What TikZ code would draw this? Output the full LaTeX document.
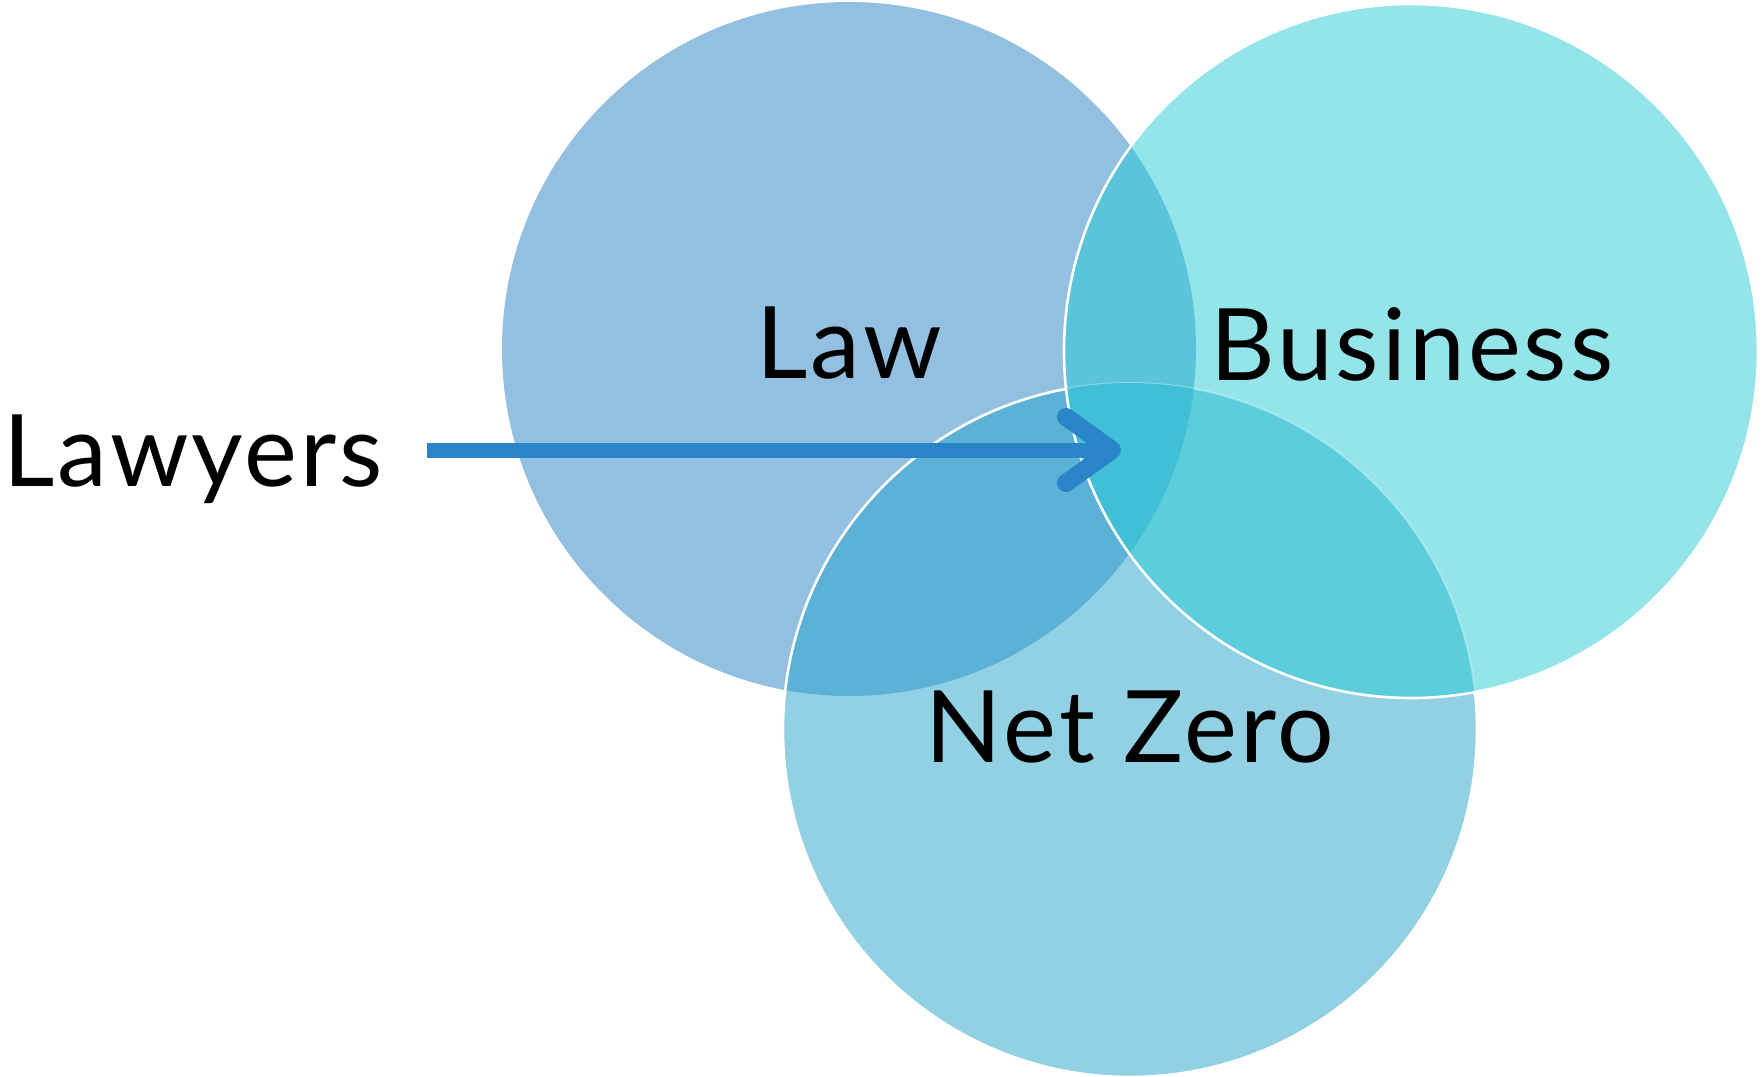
\documentclass[tikz,border=0pt]{standalone}
\usepackage{fontspec}
\setmainfont{Lato}[LetterSpace=3]
\usetikzlibrary{arrows.meta,positioning}

\definecolor{lawblue}{HTML}{93BFE0}
\definecolor{busblue}{HTML}{93E5EA}
\definecolor{netblue}{HTML}{92D1E4}
\definecolor{lawbus}{HTML}{5BC4DB}
\definecolor{lawnet}{HTML}{5CB2D6}
\definecolor{busnet}{HTML}{5CCDDB}
\definecolor{allthree}{HTML}{41BFD6}
\definecolor{arrowblue}{HTML}{2984C8}

\begin{document}
\begin{tikzpicture}[
    x=0.5pt, y=-0.5pt,
    arrow/.style={draw=arrowblue, line width=7.5pt, -{Straight Barb[length=23pt, width=33pt, line width=9pt, round]}},
    title/.style={font=\fontsize{50}{60}\selectfont, inner sep=0pt},
    rim/.style={draw=white, line width=1.3pt},
  ]
  \useasboundingbox (0,0) rectangle (1763,1077);
  \def\rad{173.5pt}
  \coordinate (law c) at (849,349);
  \coordinate (business c) at (1411,351);
  \coordinate (netzero c) at (1130,730);

  % discs
  \fill[lawblue] (law c) circle[radius=\rad];
  \fill[netblue] (netzero c) circle[radius=\rad];
  \begin{scope}
    \clip (law c) circle[radius=\rad];
    \fill[lawnet] (netzero c) circle[radius=\rad];
  \end{scope}
  \draw[rim] (netzero c) circle[radius=\rad];
  \fill[busblue] (business c) circle[radius=\rad];
  \begin{scope}
    \clip (business c) circle[radius=\rad];
    \fill[lawbus] (law c) circle[radius=\rad];
    \fill[busnet] (netzero c) circle[radius=\rad];
    \draw[white, opacity=0.3, line width=1pt] (netzero c) circle[radius=\rad];
    \clip (law c) circle[radius=\rad];
    \fill[allthree] (netzero c) circle[radius=\rad];
  \end{scope}
  \draw[rim] (business c) circle[radius=\rad];

  % labels
  \node[title, anchor=base] (law) at (849,378) {Law};
  \node[title, anchor=base] (business) at (1412,380) {Business};
  \node[title, anchor=base] (netzero) at (1130,762) {Net Zero};
  \node[title, anchor=base west] (lawyers) at (3,486) {Lawyers};

  \coordinate (tip) at (1121,450);
  \draw[arrow, shorten <=22pt] (lawyers.east |- tip) -- (tip);
\end{tikzpicture}
\end{document}
